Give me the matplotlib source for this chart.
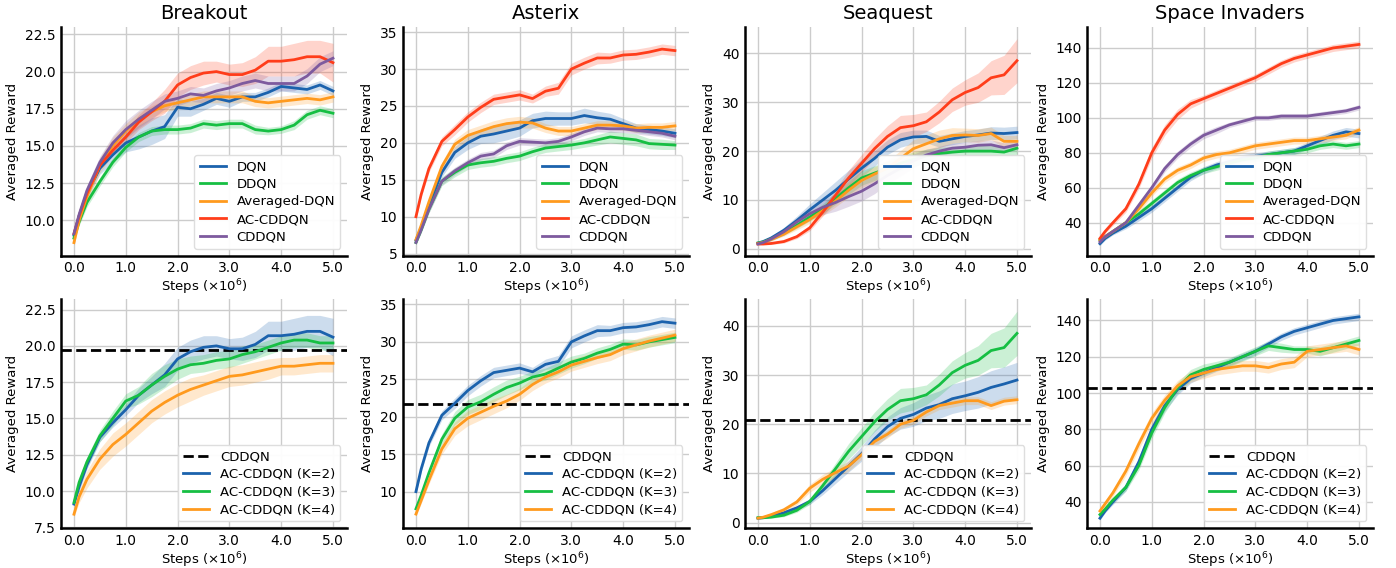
import matplotlib
matplotlib.use("Agg")
import matplotlib.pyplot as plt
from matplotlib.ticker import MultipleLocator, FormatStrFormatter
import numpy as np

steps = [0, 0.1, 0.25, 0.5, 0.75, 1.0, 1.25, 1.5, 1.75, 2.0, 2.25, 2.5,
         2.75, 3.0, 3.25, 3.5, 3.75, 4.0, 4.25, 4.5, 4.75, 5.0]

# ---- Breakout
brk_dqn = [9.0, 10.3, 11.8, 13.5, 14.4, 15.2, 15.6, 16.0, 16.3, 17.6, 17.5, 17.8,
           18.2, 18.0, 18.3, 18.3, 18.6, 19.0, 18.9, 18.8, 19.1, 18.7]
brk_ddqn = [8.8, 9.9, 11.2, 12.6, 13.9, 14.9, 15.6, 16.0, 16.1, 16.1, 16.2, 16.5,
            16.4, 16.5, 16.5, 16.1, 16.0, 16.1, 16.4, 17.1, 17.4, 17.2]
brk_avg = [8.5, 10.0, 11.6, 13.7, 15.0, 16.0, 16.8, 17.3, 17.7, 17.9, 18.1, 18.3,
           18.3, 18.3, 18.3, 18.0, 17.9, 18.0, 18.1, 18.2, 18.1, 18.3]
brk_ac = [9.1, 10.3, 11.8, 13.7, 14.7, 15.6, 16.6, 17.3, 18.0, 19.1, 19.6, 19.9,
          20.0, 19.8, 19.8, 20.1, 20.7, 20.7, 20.8, 21.0, 21.0, 20.6]
brk_cd = [9.1, 10.4, 12.0, 13.9, 15.2, 16.1, 16.8, 17.4, 18.0, 18.2, 18.5, 18.4,
          18.7, 18.9, 19.2, 19.4, 19.2, 19.2, 19.2, 19.7, 20.5, 20.9]
brk_k3 = [9.2, 10.6, 12.0, 13.8, 15.0, 16.2, 16.6, 17.3, 17.9, 18.4, 18.7, 18.8,
          19.0, 19.1, 19.4, 19.6, 19.9, 20.2, 20.4, 20.4, 20.2, 20.2]
brk_k4 = [8.4, 9.6, 10.8, 12.2, 13.2, 13.9, 14.7, 15.5, 16.1, 16.6, 17.0, 17.3,
          17.6, 17.9, 18.0, 18.2, 18.4, 18.6, 18.6, 18.7, 18.8, 18.8]
brk_dqn_sd = [0.2, 0.3, 0.35, 0.4, 0.5, 0.6, 0.8, 0.9, 0.8, 0.6, 0.5, 0.4,
              0.4, 0.4, 0.3, 0.3, 0.3, 0.3, 0.3, 0.3, 0.3, 0.3]
brk_ddqn_sd = [0.2, 0.25, 0.3, 0.3, 0.3, 0.3, 0.3, 0.3, 0.3, 0.3, 0.3, 0.3,
               0.3, 0.3, 0.3, 0.3, 0.25, 0.25, 0.3, 0.3, 0.3, 0.3]
brk_avg_sd = [0.2, 0.3, 0.4, 0.5, 0.6, 0.5, 0.5, 0.4, 0.4, 0.4, 0.4, 0.4,
              0.4, 0.4, 0.4, 0.35, 0.35, 0.35, 0.35, 0.35, 0.35, 0.35]
brk_ac_sd = [0.2, 0.3, 0.3, 0.3, 0.3, 0.4, 0.5, 0.6, 0.8, 0.8, 0.8, 0.8,
             0.7, 0.7, 0.8, 0.9, 1.0, 1.0, 1.1, 1.1, 1.1, 1.3]
brk_cd_sd = [0.2, 0.3, 0.35, 0.4, 0.5, 0.6, 0.6, 0.6, 0.5, 0.5, 0.5, 0.5,
             0.5, 0.5, 0.5, 0.5, 0.5, 0.5, 0.5, 0.5, 0.5, 0.5]
brk_k3_sd = [0.2, 0.3, 0.35, 0.4, 0.5, 0.5, 0.6, 0.8, 0.8, 0.7, 0.6, 0.6,
             0.6, 0.6, 0.6, 0.5, 0.5, 0.5, 0.5, 0.5, 0.5, 0.5]
brk_k4_sd = [0.2, 0.4, 0.6, 0.7, 0.8, 0.8, 0.8, 0.8, 0.8, 0.8, 0.8, 0.7,
             0.7, 0.7, 0.7, 0.7, 0.7, 0.6, 0.6, 0.6, 0.6, 0.6]
brk_cddqn_ref = 19.75

# ---- Asterix
ast_dqn = [6.8, 8.5, 11.5, 16.0, 18.7, 20.0, 20.9, 21.2, 21.6, 22.0, 23.0, 23.3,
           23.3, 23.3, 23.7, 23.4, 23.2, 22.6, 22.0, 21.8, 21.6, 21.3]
ast_ddqn = [6.5, 8.2, 11.0, 14.8, 16.0, 17.0, 17.3, 17.5, 17.9, 18.2, 18.8, 19.3,
            19.5, 19.7, 20.0, 20.4, 20.8, 20.6, 20.4, 19.9, 19.8, 19.7]
ast_avg = [6.9, 8.8, 12.0, 16.8, 19.8, 21.0, 21.6, 22.2, 22.6, 22.8, 22.7, 22.0,
           21.6, 21.6, 22.0, 22.4, 22.4, 22.3, 22.0, 22.1, 22.1, 22.3]
ast_ac = [10.0, 13.0, 16.5, 20.2, 21.8, 23.5, 24.8, 25.9, 26.2, 26.5, 26.0, 27.0,
          27.4, 30.0, 30.8, 31.5, 31.5, 31.9, 32.0, 32.3, 32.7, 32.5]
ast_cd = [6.5, 8.2, 11.0, 14.8, 16.2, 17.3, 18.2, 18.5, 19.6, 20.2, 20.1, 20.0,
          20.2, 20.8, 21.5, 22.0, 21.9, 21.9, 21.7, 21.5, 21.3, 20.9]
ast_k3 = [7.7, 9.5, 12.5, 17.0, 19.8, 21.3, 22.0, 23.0, 23.9, 24.5, 25.3, 25.7,
          26.5, 27.3, 27.8, 28.5, 29.0, 29.7, 29.6, 30.0, 30.3, 30.6]
ast_k4 = [7.0, 8.8, 11.5, 15.7, 18.4, 19.8, 20.6, 21.4, 22.1, 23.0, 24.3, 25.3,
          26.0, 26.9, 27.4, 27.9, 28.3, 29.1, 29.6, 30.1, 30.5, 30.9]
ast_dqn_sd = [0.3, 0.4, 0.5, 0.6, 0.8, 0.9, 1.0, 1.2, 1.2, 1.1, 1.0, 1.0,
              0.9, 0.9, 1.0, 0.9, 0.8, 0.7, 0.6, 0.6, 0.6, 0.6]
ast_ddqn_sd = [0.3, 0.4, 0.5, 0.6, 0.6, 0.6, 0.6, 0.6, 0.6, 0.6, 0.6, 0.6,
               0.6, 0.6, 0.6, 0.7, 0.8, 0.8, 0.8, 0.7, 0.7, 0.6]
ast_avg_sd = [0.3, 0.4, 0.5, 0.6, 0.7, 0.8, 0.8, 0.8, 0.8, 0.8, 0.7, 0.6,
              0.6, 0.6, 0.6, 0.6, 0.6, 0.6, 0.6, 0.6, 0.6, 0.6]
ast_ac_sd = [0.3, 0.4, 0.5, 0.6, 0.7, 0.7, 0.7, 0.7, 0.7, 0.7, 0.6, 0.7,
             0.8, 0.8, 0.8, 0.8, 0.7, 0.7, 0.7, 0.7, 0.7, 0.7]
ast_cd_sd = [0.3, 0.4, 0.5, 0.5, 0.5, 0.5, 0.5, 0.5, 0.5, 0.5, 0.5, 0.5,
             0.5, 0.5, 0.5, 0.5, 0.5, 0.5, 0.5, 0.5, 0.5, 0.5]
ast_k3_sd = [0.3, 0.4, 0.5, 0.7, 0.9, 1.0, 1.0, 1.0, 1.0, 0.9, 0.8, 0.8,
             0.8, 0.8, 0.7, 0.7, 0.7, 0.7, 0.7, 0.7, 0.7, 0.7]
ast_k4_sd = [0.3, 0.4, 0.5, 0.7, 0.9, 1.0, 1.0, 1.0, 0.9, 0.8, 0.8, 0.8,
             0.8, 0.8, 0.8, 0.8, 0.8, 0.8, 0.8, 0.8, 0.8, 0.8]
ast_cddqn_ref = 21.7

# ---- Seaquest
sea_dqn = [1.2, 1.5, 2.2, 3.8, 5.8, 8.0, 10.0, 12.0, 14.3, 16.5, 18.5, 20.8,
           22.3, 22.9, 23.0, 22.0, 22.5, 23.0, 23.3, 23.7, 23.6, 23.8]
sea_ddqn = [1.2, 1.4, 2.0, 3.2, 4.8, 6.5, 8.2, 10.3, 12.5, 14.5, 15.5, 16.5,
            17.5, 18.3, 19.0, 19.5, 19.8, 20.0, 20.0, 20.0, 19.8, 20.6]
sea_avg = [1.1, 1.3, 1.9, 3.0, 4.5, 6.0, 7.8, 9.8, 12.0, 14.0, 15.3, 16.5,
           18.5, 20.5, 21.5, 22.5, 23.2, 23.3, 23.2, 23.6, 22.0, 22.0]
sea_ac = [1.0, 1.0, 1.1, 1.5, 2.5, 4.3, 7.5, 11.0, 14.5, 17.5, 20.5, 23.0,
          24.8, 25.2, 26.0, 28.0, 30.5, 32.0, 33.0, 35.0, 35.6, 38.5]
sea_cd = [1.0, 1.3, 2.0, 3.5, 5.5, 7.2, 8.5, 9.5, 10.7, 11.8, 13.3, 15.0,
          16.5, 18.0, 19.2, 20.0, 20.6, 20.8, 21.2, 21.3, 20.7, 21.3]
sea_k2 = [0.9, 1.0, 1.3, 2.0, 3.0, 4.3, 6.5, 9.0, 11.5, 14.0, 17.0, 19.5,
          21.2, 22.0, 23.3, 24.0, 25.2, 25.8, 26.5, 27.5, 28.2, 29.0]
sea_k4 = [0.9, 1.1, 1.6, 2.6, 4.2, 7.0, 8.8, 10.2, 11.5, 13.8, 16.5, 18.0,
          20.0, 20.8, 22.5, 23.8, 24.3, 24.8, 24.8, 23.8, 24.7, 25.0]
sea_dqn_sd = [0.2, 0.3, 0.4, 0.6, 0.9, 1.2, 1.5, 1.8, 1.8, 1.8, 1.6, 1.5,
              1.5, 1.4, 1.3, 1.2, 1.2, 1.2, 1.2, 1.3, 1.3, 1.3]
sea_ddqn_sd = [0.2, 0.3, 0.3, 0.4, 0.6, 0.8, 1.0, 1.2, 1.4, 1.5, 1.5, 1.5,
               1.5, 1.5, 1.4, 1.3, 1.2, 1.2, 1.2, 1.2, 1.2, 1.2]
sea_avg_sd = [0.2, 0.3, 0.3, 0.4, 0.6, 0.8, 1.0, 1.2, 1.4, 1.5, 1.5, 1.5,
              1.6, 1.8, 1.8, 1.8, 1.6, 1.4, 1.4, 1.3, 1.2, 1.2]
sea_ac_sd = [0.2, 0.2, 0.2, 0.3, 0.4, 0.6, 0.8, 1.2, 1.6, 1.8, 2.0, 2.2,
             2.5, 2.3, 2.0, 2.2, 2.4, 2.6, 3.0, 3.5, 4.0, 4.5]
sea_cd_sd = [0.2, 0.3, 0.4, 0.6, 0.9, 1.2, 1.5, 1.8, 2.0, 2.0, 2.0, 1.8,
             1.6, 1.4, 1.2, 1.0, 1.0, 1.0, 1.0, 1.0, 1.0, 1.0]
sea_k2_sd = [0.2, 0.2, 0.2, 0.3, 0.4, 0.6, 0.8, 1.0, 1.2, 1.5, 1.8, 2.0,
             2.2, 2.4, 2.6, 2.8, 3.0, 3.0, 3.2, 3.4, 3.5, 3.6]
sea_k4_sd = [0.2, 0.3, 0.4, 0.5, 0.6, 0.8, 1.0, 1.0, 1.0, 0.9, 0.8, 0.8,
             0.8, 0.8, 0.8, 0.8, 0.8, 0.8, 0.8, 0.8, 0.8, 0.8]
sea_cddqn_ref = 20.8

# ---- Space Invaders
spi_dqn = [28, 31, 34, 38, 43, 48, 54, 60, 66, 70, 73, 75,
           77, 78, 79, 80, 81, 84, 87, 90, 92, 91]
spi_ddqn = [30, 32, 35, 40, 45, 51, 57, 63, 67, 70, 72, 74,
            76, 77, 79, 80, 81, 82, 84, 85, 84, 85]
spi_avg = [30, 32, 35, 40, 48, 57, 65, 70, 73, 77, 79, 80,
           82, 84, 85, 86, 87, 87, 88, 89, 90, 93]
spi_ac = [31, 35, 40, 48, 62, 80, 93, 102, 108, 111, 114, 117,
          120, 123, 127, 131, 134, 136, 138, 140, 141, 142]
spi_cd = [29, 32, 35, 40, 50, 60, 71, 79, 85, 90, 93, 96,
          98, 100, 100, 101, 101, 101, 102, 103, 104, 106]
spi_k3 = [33, 36, 41, 48, 60, 78, 92, 103, 110, 113, 115, 117,
          120, 123, 126, 125, 124, 124, 123, 125, 127, 129]
spi_k4 = [35, 39, 45, 57, 72, 86, 96, 104, 109, 111, 113, 114,
          115, 115, 114, 116, 117, 123, 124, 125, 126, 124]
spi_dqn_sd = [1, 1, 1, 1.5, 2, 2, 2, 2, 2, 2, 2, 2,
              2, 2, 2, 2, 2, 2, 2.5, 2.5, 2.5, 2.5]
spi_ddqn_sd = [1, 1, 1, 1.5, 2, 2, 2, 2, 2, 2, 2, 2,
               2, 2, 2, 2, 2, 2, 2, 2, 2, 2]
spi_avg_sd = [1, 1, 1, 1.5, 2, 2, 2, 2, 2, 2, 2, 2,
              2, 2, 2, 2, 2, 2, 2, 2, 2, 2]
spi_ac_sd = [1, 1, 1.5, 2, 2.5, 3, 3, 3, 2.5, 2, 2, 2,
             2, 2, 2, 2, 2, 2, 2, 2, 2, 2]
spi_cd_sd = [1, 1, 1, 1.5, 2, 2, 2, 2, 2, 2, 2, 1.5,
             1.5, 1.5, 1.5, 1.5, 1.5, 1.5, 1.5, 1.5, 1.5, 1.5]
spi_k3_sd = [1, 1, 1.5, 2, 2.5, 3, 3, 3, 3, 3, 2.5, 2.5,
             2.5, 2.5, 2.5, 2.5, 2, 2, 2.5, 2.5, 2.5, 2.5]
spi_k4_sd = [1, 1.5, 2, 2.5, 3, 3, 3, 3, 3, 3, 3, 3,
             3, 3, 3, 3, 3, 3, 3, 3, 3, 3]
spi_cddqn_ref = 102.6

games = ["Breakout", "Asterix", "Seaquest", "Space Invaders"]
method_names = ["DQN", "DDQN", "Averaged-DQN", "AC-CDDQN", "CDDQN"]
k_names = ["AC-CDDQN (K=2)", "AC-CDDQN (K=3)", "AC-CDDQN (K=4)"]

top_data = [
    [(brk_dqn, brk_dqn_sd), (brk_ddqn, brk_ddqn_sd), (brk_avg, brk_avg_sd), (brk_ac, brk_ac_sd), (brk_cd, brk_cd_sd)],
    [(ast_dqn, ast_dqn_sd), (ast_ddqn, ast_ddqn_sd), (ast_avg, ast_avg_sd), (ast_ac, ast_ac_sd), (ast_cd, ast_cd_sd)],
    [(sea_dqn, sea_dqn_sd), (sea_ddqn, sea_ddqn_sd), (sea_avg, sea_avg_sd), (sea_ac, sea_ac_sd), (sea_cd, sea_cd_sd)],
    [(spi_dqn, spi_dqn_sd), (spi_ddqn, spi_ddqn_sd), (spi_avg, spi_avg_sd), (spi_ac, spi_ac_sd), (spi_cd, spi_cd_sd)],
]
# K=2 / K=3 curves re-use the AC-CDDQN runs of the top row
bottom_data = [
    [(brk_ac, brk_ac_sd), (brk_k3, brk_k3_sd), (brk_k4, brk_k4_sd)],
    [(ast_ac, ast_ac_sd), (ast_k3, ast_k3_sd), (ast_k4, ast_k4_sd)],
    [(sea_k2, sea_k2_sd), (sea_ac, sea_ac_sd), (sea_k4, sea_k4_sd)],
    [(spi_ac, spi_ac_sd), (spi_k3, spi_k3_sd), (spi_k4, spi_k4_sd)],
]
cddqn_refs = [brk_cddqn_ref, ast_cddqn_ref, sea_cddqn_ref, spi_cddqn_ref]

top_ylims = [(7.63, 23.0), (4.73, 35.7), (-1.37, 45.4), (21.2, 152)]
bottom_ylims = [(7.45, 23.2), (5.14, 35.67), (-1.1, 45.4), (25.6, 151.6)]
ysteps = [2.5, 5, 10, 20]

c_blue = "#1b62ad"
c_green = "#16bf43"
c_orange = "#ff9a1e"
c_red = "#ff3d1a"
c_purple = "#7d5a9e"
top_colors = [c_blue, c_green, c_orange, c_red, c_purple]
bottom_colors = [c_blue, c_green, c_orange]

plt.rcParams["font.family"] = "DejaVu Sans"

fig, axes = plt.subplots(2, 4, figsize=(13.96, 5.68), dpi=100)
fig.subplots_adjust(left=0.0437, right=0.9835, top=0.9525, bottom=0.0704,
                    wspace=0.196, hspace=0.192)

x = np.array(steps)


def style_axis(ax, ylim, ystep):
    ax.set_xlim(-0.25, 5.27)
    ax.set_ylim(*ylim)
    ax.xaxis.set_major_locator(MultipleLocator(1.0))
    ax.xaxis.set_major_formatter(FormatStrFormatter("%.1f"))
    ax.yaxis.set_major_locator(MultipleLocator(ystep))
    ax.grid(True, color="#cccccc", linewidth=1.0)
    ax.set_axisbelow(True)
    for s in ["top", "right"]:
        ax.spines[s].set_visible(False)
    for s in ["left", "bottom"]:
        ax.spines[s].set_color("black")
        ax.spines[s].set_linewidth(1.8)
    ax.tick_params(length=0, labelsize=10, pad=4)
    ax.set_xlabel(r"Steps ($\times10^6$)", fontsize=9.5, labelpad=2)
    ax.set_ylabel("Averaged Reward", fontsize=9.5, labelpad=4)


for j in range(4):
    ax = axes[0, j]
    for (m, sd), col, name in zip(top_data[j], top_colors, method_names):
        m = np.array(m)
        sd = np.array(sd)
        ax.fill_between(x, m - sd, m + sd, color=col, alpha=0.22, linewidth=0)
        ax.plot(x, m, color=col, lw=2, label=name)
    style_axis(ax, top_ylims[j], ysteps[j])
    ax.set_title(games[j], fontsize=14)
    ax.legend(loc="lower right", fontsize=9.5, framealpha=0.95,
              edgecolor="#dddddd", borderpad=0.4, labelspacing=0.35)

    ax = axes[1, j]
    ax.axhline(cddqn_refs[j], color="black", ls="--", lw=2, label="CDDQN")
    for (m, sd), col, name in zip(bottom_data[j], bottom_colors, k_names):
        m = np.array(m)
        sd = np.array(sd)
        ax.fill_between(x, m - sd, m + sd, color=col, alpha=0.22, linewidth=0)
        ax.plot(x, m, color=col, lw=2, label=name)
    style_axis(ax, bottom_ylims[j], ysteps[j])
    ax.legend(loc="lower right", fontsize=9.5, framealpha=0.95,
              edgecolor="#dddddd", borderpad=0.4, labelspacing=0.35)

fig.savefig("out.png", dpi=100)
